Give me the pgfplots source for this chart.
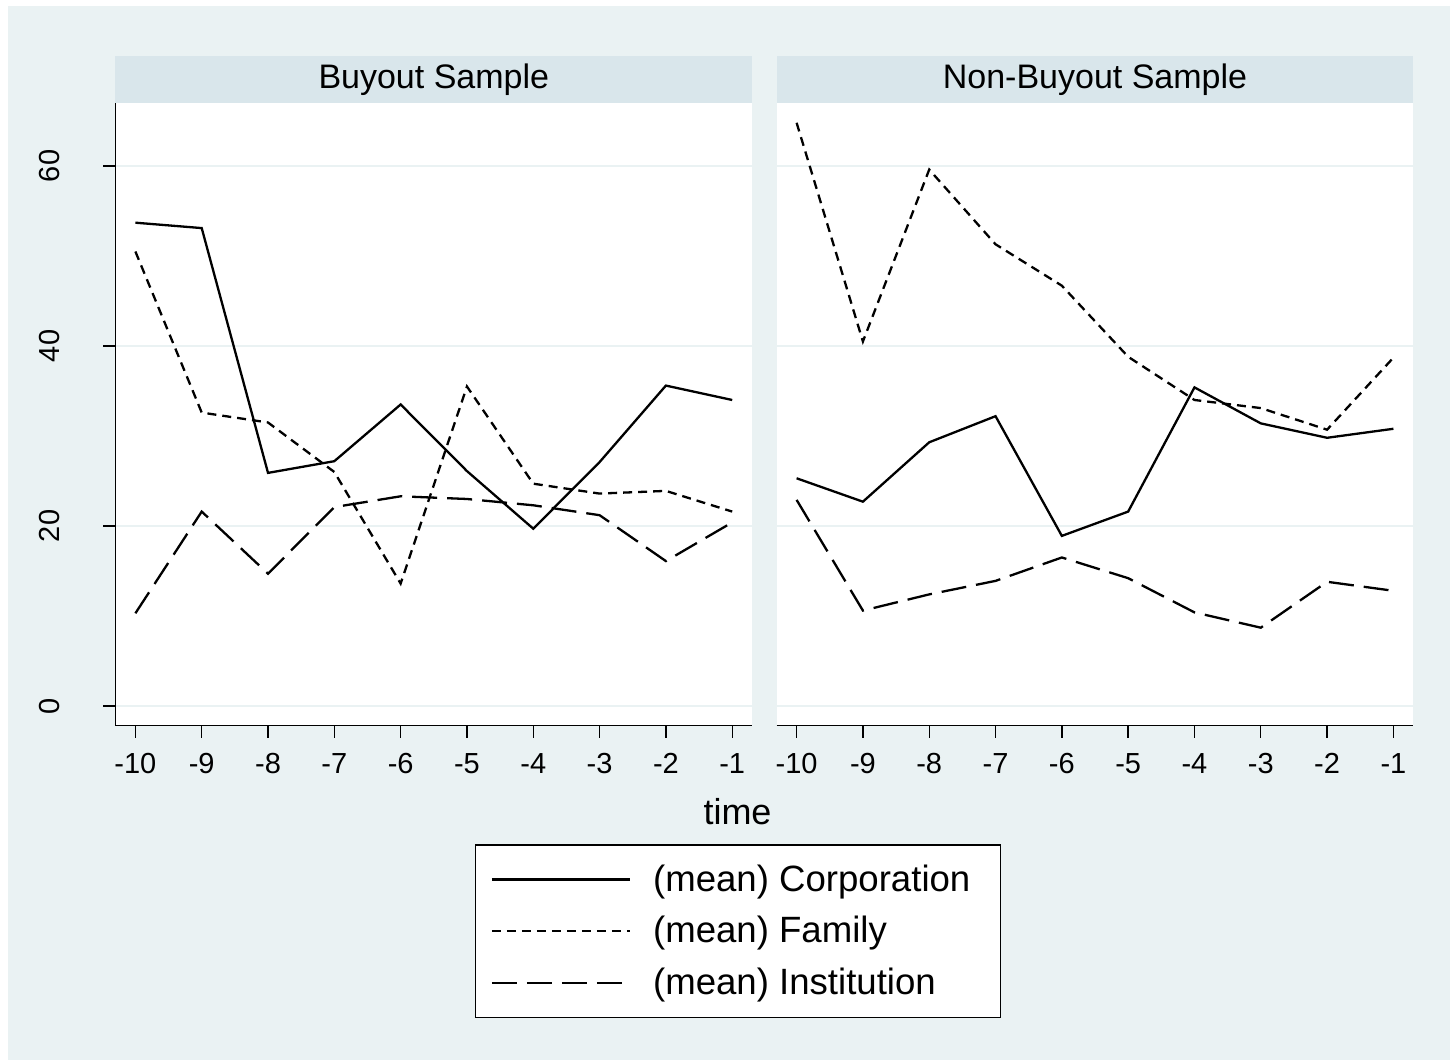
\documentclass[border=0pt]{standalone}
\usepackage{pgfplots}
\pgfplotsset{compat=1.18}
\usepackage{pgfplotstable}
\usepackage{fontspec}
\setmainfont{Liberation Sans}

\definecolor{statabg}{RGB}{234,242,243}
\definecolor{statahdr}{RGB}{217,230,235}
\definecolor{statagrid}{RGB}{234,242,243}

\pgfplotstableread{
t corp fam inst
-10 53.7 50.5 10.3
-9 53.1 32.6 21.6
-8 25.9 31.5 14.7
-7 27.2 26.0 22.1
-6 33.5 13.6 23.3
-5 26.1 35.5 23.0
-4 19.7 24.7 22.3
-3 27.1 23.6 21.2
-2 35.6 23.9 16.1
-1 34.0 21.6 20.4
}\buyout

\pgfplotstableread{
t corp fam inst
-10 25.3 64.8 22.9
-9 22.7 40.5 10.6
-8 29.3 59.6 12.4
-7 32.2 51.3 13.9
-6 18.9 46.7 16.5
-5 21.6 38.8 14.2
-4 35.4 34.0 10.4
-3 31.4 33.1 8.7
-2 29.8 30.7 13.8
-1 30.8 38.7 12.8
}\nonbuyout

\pgfplotsset{
  panel/.style={
    scale only axis,
    width=318.3pt, height=311.35pt,
    anchor=south west,
    xmin=-10.3, xmax=-0.7,
    ymin=-2.19, ymax=67.0,
    xtick={-10,-9,...,-1},
    xticklabels={-10,-9,-8,-7,-6,-5,-4,-3,-2,-1},
    ytick={0,20,40,60},
    axis x line=bottom, axis y line=left,
    axis line style={-, line width=0.7pt, black},
    xtick align=outside, ytick align=outside,
    major tick length=6pt,
    tick style={line width=0.7pt, black},
    ymajorgrids,
    grid style={statagrid, line width=1pt},
    axis background/.style={fill=white},
    tick label style={font=\fontsize{14.5}{17}\selectfont},
    xticklabel style={anchor=north, inner sep=0pt, yshift=-7.5pt},
    clip=false,
    legend image code/.code={\draw[#1] (0pt,0pt) -- (69pt,0pt);},
  },
  corpst/.style={black, solid, line width=1.15pt},
  famst/.style={black, line width=1.15pt, dash pattern=on 4.5pt off 3pt},
  instst/.style={black, line width=1.15pt, dash pattern=on 12.5pt off 5pt},
}

\begin{document}
\begin{tikzpicture}
\useasboundingbox (0,0) rectangle (725pt,530pt);
\fill[white] (0,0) rectangle (725pt,530pt);
\fill[statabg] (4pt,0) rectangle (725pt,527pt);

\begin{axis}[panel,
  at={(57.75pt,167.15pt)},
  xtick align=outside, ytick align=outside,
  yticklabels={0,20,40,60},
  yticklabel style={rotate=90, anchor=south, inner sep=0pt, yshift=21.5pt},
  legend style={
    at={(0.565,-0.1905)}, anchor=north west,
    draw=black, line width=0.6pt, fill=white,
    inner xsep=7.5pt, inner ysep=9.9pt,
    row sep=11.05pt,
    font=\fontsize{18.3}{20}\selectfont,
    cells={anchor=west},
    nodes={inner sep=0pt},
    /tikz/every odd column/.append style={column sep=11pt},
  },
]
\fill[statahdr] (axis description cs:0,1) rectangle ([yshift=23.5pt]axis description cs:1,1);
\node[anchor=base, font=\fontsize{17}{20}\selectfont] at ([yshift=7.0pt]axis description cs:0.5,1) {Buyout Sample};
\addplot[corpst] table[x=t, y=corp] {\buyout};
\addlegendentry{\makebox[166.35pt][l]{(mean) Corporation}}
\addplot[famst] table[x=t, y=fam] {\buyout};
\addlegendentry{\makebox[166.35pt][l]{(mean) Family}}
\addplot[instst] table[x=t, y=inst] {\buyout};
\addlegendentry{\makebox[166.35pt][l]{(mean) Institution}}
\end{axis}

\begin{axis}[panel,
  at={(388.35pt,167.15pt)},
  xtick align=outside,
  yticklabels={},
  y axis line style={draw=none},
  ytick style={draw=none},
]
\fill[statahdr] (axis description cs:0,1) rectangle ([yshift=23.5pt]axis description cs:1,1);
\node[anchor=base, font=\fontsize{17}{20}\selectfont] at ([yshift=7.0pt]axis description cs:0.5,1) {Non-Buyout Sample};
\addplot[corpst] table[x=t, y=corp] {\nonbuyout};
\addplot[famst] table[x=t, y=fam] {\nonbuyout};
\addplot[instst] table[x=t, y=inst] {\nonbuyout};
\end{axis}

\node[anchor=base, font=\fontsize{18}{21}\selectfont] at (368.75pt,117.85pt) {time};
\end{tikzpicture}
\end{document}
